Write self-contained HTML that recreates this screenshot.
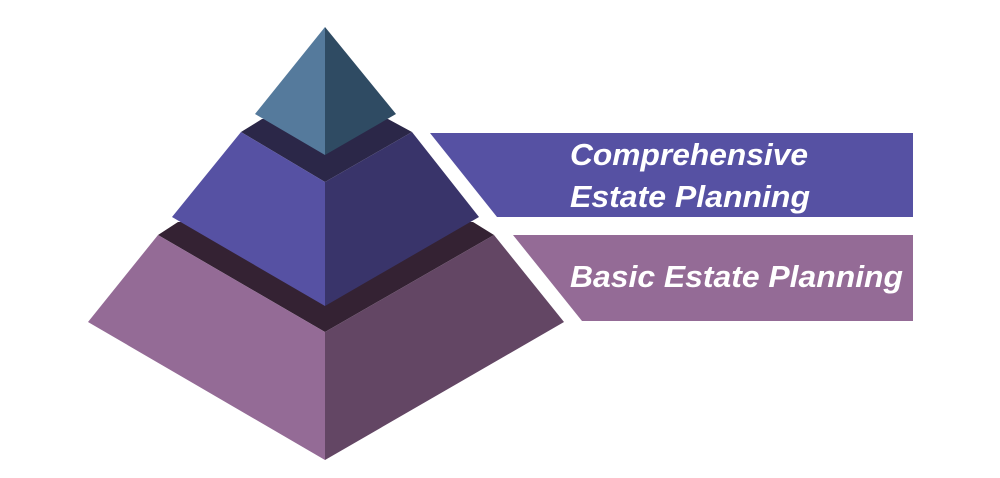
<!DOCTYPE html>
<html><head><style>html,body{margin:0;padding:0;background:#fff;width:1000px;height:478px;overflow:hidden}</style></head>
<body>
<svg width="1000" height="478" xmlns="http://www.w3.org/2000/svg">
<polygon points="430,133 913,133 913,217 497,217" fill="#5651a3"/>
<polygon points="513,235 913,235 913,321 582,321" fill="#946b96"/>
<g font-family="Liberation Sans, sans-serif" font-weight="bold" font-style="italic" fill="#fff">
<text x="570" y="165" font-size="31" textLength="238" lengthAdjust="spacingAndGlyphs">Comprehensive</text>
<text x="570" y="207" font-size="31" textLength="240" lengthAdjust="spacingAndGlyphs">Estate Planning</text>
<text x="570" y="287" font-size="31" textLength="333" lengthAdjust="spacingAndGlyphs">Basic Estate Planning</text>
</g>
<polygon points="158,235 178,222 473,222 494,235 325,332" fill="#342233"/>
<polygon points="88,322 158,235 325,332 325,460" fill="#946b96"/>
<polygon points="564,322 494,235 325,332 325,460" fill="#634664"/>
<polygon points="241,132 262,119 388,119 412,132 325,182" fill="#2b2748"/>
<polygon points="172,217 241,132 325,182 325,306" fill="#5651a3"/>
<polygon points="479,217 412,132 325,182 325,306" fill="#39346a"/>
<polygon points="325,27 255,114 325,155" fill="#557a9c"/>
<polygon points="325,27 396,114 325,155" fill="#2f4b63"/>
</svg>
</body></html>
